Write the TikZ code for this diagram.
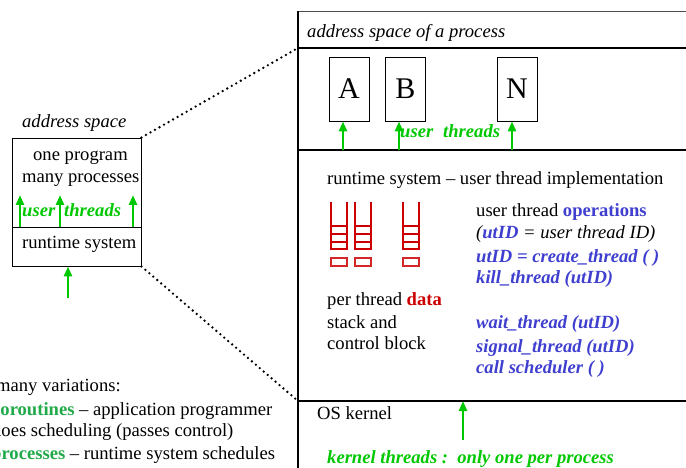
\documentclass[tikz,border=0pt]{standalone}
\usepackage{fontspec}
\setmainfont{LiberationSerif}[
  Extension=.ttf,
  UprightFont=*-Regular,
  BoldFont=*-Bold,
  ItalicFont=*-Italic,
  BoldItalicFont=*-BoldItalic]
\usetikzlibrary{arrows.meta}
\definecolor{ugreen}{HTML}{00C800}
\definecolor{cgreen}{HTML}{22AA4A}
\definecolor{opblue}{HTML}{3F3FCF}
\definecolor{datared}{HTML}{CC0000}
\tikzset{
  txt/.style={anchor=base west, inner sep=0pt, font=\fontsize{18.6}{22}\selectfont},
  gtxt/.style={txt, text=ugreen, font=\fontsize{18.6}{22}\selectfont\bfseries\itshape},
  optxt/.style={txt, text=opblue, font=\fontsize{18.6}{22}\selectfont\bfseries\itshape},
  thinbox/.style={draw, line width=0.9pt, inner sep=0pt},
  thick rule/.style={line width=2.6pt},
  garrow/.style={draw=ugreen, line width=2.6pt, -{Triangle[width=8pt,length=10pt]}},
  dots/.style={line width=2.6pt, line cap=round, dash pattern=on 0pt off 5.2pt},
  rstack/.style={draw=datared, line width=2pt},
  letterbox/.style={thinbox, minimum width=40pt, minimum height=64pt,
    font=\fontsize{30}{32}\selectfont},
}
\begin{document}
\begin{tikzpicture}[x=1pt, y=-1pt]
\useasboundingbox (0,0) rectangle (686,468);
\clip (0,0) rectangle (686,468);

% ---------- small address space sketch on the left ----------
\node[txt, font=\fontsize{18.6}{22}\selectfont\itshape] (aslabel) at (22,128) {address space};
\node[thinbox, minimum width=129pt, minimum height=128pt] (lbox) at (76.5,202) {};
\coordinate (ldivl) at (12,227);
\coordinate (ldivr) at (141,227);
\draw[line width=0.9pt] (ldivl) -- (ldivr);
\node[txt] (oneprog) at (33,161) {one program};
\node[txt] (manyproc) at (22,183) {many processes};
\node[gtxt] (luser) at (22,217) {user};
\node[gtxt] (lthreads) at (64,217) {threads};
\node[txt] (lrts) at (22,248) {runtime system};
\foreach \xx/\nm in {20/la, 60/lb, 133/lc} {
  \coordinate (\nm) at (\xx,227);
  \draw[garrow] (\nm) -- (\xx,195);
}
\coordinate (lin) at (68,298);
\draw[garrow] (lin) -- (lin |- lbox.south);

% ---------- process address space on the right ----------
\coordinate (rtl) at (298,11);
\coordinate (rtr) at (690,11);
\coordinate (rbl) at (298,470);
\draw[line width=0.8pt, draw=black!70] (rtl) -- (rtr);
\draw[line width=2pt] (rtl) -- (rbl);
\node[txt, font=\fontsize{18.6}{22}\selectfont\itshape] (astitle) at (307,38) {address space of a process};
\coordinate (r1l) at (298,48);  \coordinate (r1r) at (690,48);
\coordinate (r2l) at (298,150); \coordinate (r2r) at (690,150);
\coordinate (r3l) at (298,401); \coordinate (r3r) at (690,401);
\draw[thick rule] (r1l) -- (r1r);
\draw[thick rule] (r2l) -- (r2r);
\draw[thick rule] (r3l) -- (r3r);

% dotted zoom lines between the sketches
\draw[dots] (lbox.north east) -- (r1l);
\draw[dots] (lbox.south east) -- (r3l);

% user threads A, B, N
\node[letterbox] (tA) at (349,89) {A};
\node[letterbox] (tB) at (405.5,89) {B};
\node[letterbox] (tN) at (517,89) {N};
\foreach \xx/\tn in {343/tA, 399/tB, 512/tN} {
  \coordinate (s\tn) at (\xx,150);
  \draw[garrow] (s\tn) -- (s\tn |- \tn.south);
}
\node[gtxt] (ruser) at (400,138) {user};
\node[gtxt] (rthreads) at (443,138) {threads};

% runtime system
\node[txt] (rtsline) at (327,185) {runtime system -- user thread implementation};

% per thread stacks and control blocks
\foreach \xa in {331,355,403} {
  \draw[rstack] (\xa,202) -- (\xa,249) -- (\xa+16,249) -- (\xa+16,202);
  \foreach \yy in {226,234,242}
    \draw[rstack] (\xa,\yy) -- (\xa+16,\yy);
  \draw[rstack, draw=datared!85] (\xa,258) rectangle (\xa+16,266);
}
\node[txt] (ptd) at (327,305) {per thread \textcolor{datared}{\bfseries data}};
\node[txt] (stk) at (327,328) {stack and};
\node[txt] (cblk) at (327,349) {control block};

% operations
\node[txt] (ops) at (476,217) {user thread \textcolor{opblue}{\bfseries operations}};
\node[txt, font=\fontsize{18.6}{22}\selectfont\itshape] (utid) at (476,239)
  {(\textcolor{opblue}{\bfseries utID} = user thread ID)};
\node[optxt] (create) at (476,262) {utID = create\_thread ( )};
\node[optxt] (kill) at (476,283) {kill\_thread (utID)};
\node[optxt] (wait) at (476,328) {wait\_thread (utID)};
\node[optxt] (signal) at (476,352) {signal\_thread (utID)};
\node[optxt] (sched) at (476,373) {call scheduler ( )};

% OS kernel
\node[txt] (oskernel) at (317,419) {OS kernel};
\coordinate (kin) at (463,440);
\draw[garrow] (kin) -- (kin |- r3l);
\node[gtxt] (kthreads) at (327,463) {kernel threads :\ \ only one per process};

% ---------- variations ----------
\node[txt] (var) at (-4,391) {many variations:};
\node[txt] (coro) at (-8,415) {\textcolor{cgreen}{\bfseries coroutines} -- application programmer};
\node[txt] (does) at (-8,436) {does scheduling (passes control)};
\node[txt] (procs) at (-9,459) {\textcolor{cgreen}{\bfseries processes} -- runtime system schedules};
\end{tikzpicture}
\end{document}
